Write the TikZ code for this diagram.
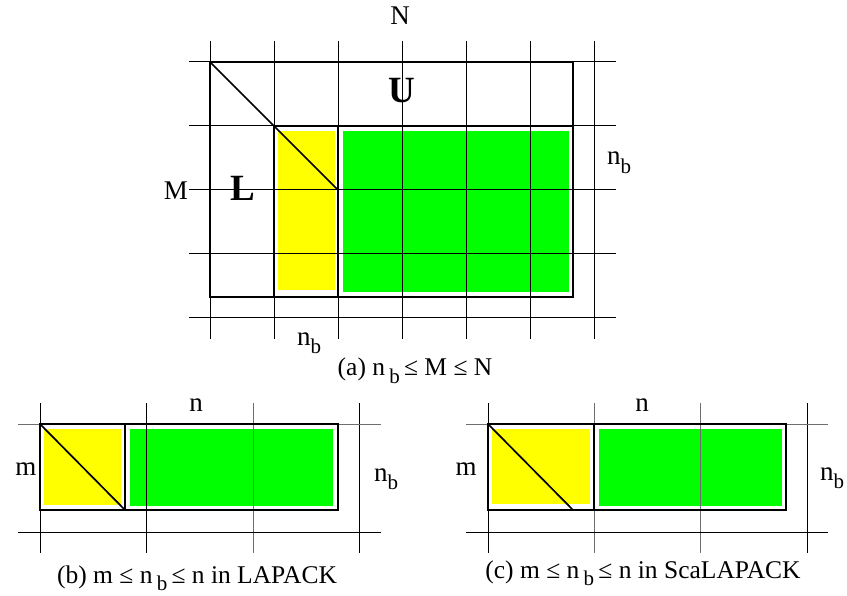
\documentclass[tikz,border=0pt]{standalone}
\usepackage{fontspec}
\setmainfont{Liberation Serif}
\definecolor{fillgreen}{RGB}{0,255,0}
\definecolor{fillyellow}{RGB}{255,255,0}
\definecolor{gridgray}{RGB}{110,110,110}
\newcommand{\sbb}{\raisebox{-0.3em}{\fontsize{21}{21}\selectfont b}}
\begin{document}
\begin{tikzpicture}[x=1pt,y=-1pt,
  gridline/.style={line width=1pt,black},
  gridgrey/.style={line width=1pt,gridgray},
  thickline/.style={line width=2.4pt,black},
  lab/.style={inner sep=0pt,anchor=base,font=\fontsize{27}{30}\selectfont},
  bigbold/.style={inner sep=0pt,anchor=base,font=\fontsize{37}{40}\selectfont\bfseries},
  captext/.style={inner sep=0pt,anchor=base,font=\fontsize{25.5}{28}\selectfont}]
\useasboundingbox (0,0) rectangle (847,596);
% ---------- (a) ----------
\fill[fillyellow] (278,131) rectangle (335,290);
\fill[fillgreen] (343,131) rectangle (569,292);
\foreach \x in {210,274,338,402,466,530,594}
  \draw[gridline] (\x,41) -- (\x,339);
\foreach \y in {62,126,190,254,318}
  \draw[gridline] (189,\y) -- (616,\y);
\draw[thickline] (210,62) rectangle (573,297);
\draw[thickline] (274,297) -- (274,126) -- (573,126);
\draw[thickline] (338,126) -- (338,297);
\coordinate (a1) at (210,62);
\coordinate (a2) at (338,190);
\draw[line width=1.7pt] (a1) -- (a2);
\node[lab] (N) at (400,25) {N};
\node[bigbold] (U) at (402,103) {U};
\node[bigbold] (L) at (243,201) {L};
\node[lab] (M) at (176,200) {M};
\node[lab] (nbR) at (619,165) {n\sbb};
\node[lab] (nbB) at (309,345) {n\sbb};
\node[captext] (capa) at (415,376) {(a) n\,\sbb\,≤ M ≤ N};
% ---------- (b) ----------
\fill[fillyellow] (44,429) rectangle (121,505);
\fill[fillgreen] (130,429) rectangle (333,506);
\foreach \x in {40,146,359}
  \draw[gridline] (\x,403) -- (\x,553);
\draw[gridgrey] (253,403) -- (253,553);
\draw[gridgrey] (18,424) -- (381,424);
\draw[gridline] (18,532) -- (381,532);
\draw[thickline] (40,424) rectangle (338,510);
\draw[thickline] (125,424) -- (125,510);
\coordinate (b1) at (40,424);
\coordinate (b2) at (125,510);
\draw[line width=1.7pt] (b1) -- (b2);
\node[lab] (nB) at (196,411) {n};
\node[lab] (mB) at (26,475) {m};
\node[lab] (nbBr) at (386,481) {n\sbb};
\node[captext] (capb) at (197,583) {(b) m ≤ n\,\sbb\,≤ n in LAPACK};
% ---------- (c) ----------
\fill[fillyellow] (492,429) rectangle (590,504);
\fill[fillgreen] (599,429) rectangle (782,506);
\foreach \x in {488,807}
  \draw[gridline] (\x,403) -- (\x,553);
\foreach \x in {594,700}
  \draw[gridgrey] (\x,403) -- (\x,553);
\draw[gridgrey] (466,424) -- (828,424);
\draw[gridline] (466,532) -- (828,532);
\draw[thickline] (488,424) rectangle (786,510);
\draw[thickline] (594,424) -- (594,510);
\coordinate (c1) at (488,424);
\coordinate (c2) at (573,510);
\draw[line width=1.7pt] (c1) -- (c2);
\node[lab] (nC) at (642,411) {n};
\node[lab] (mC) at (466,475) {m};
\node[lab] (nbCr) at (832,480) {n\sbb};
\node[captext] (capc) at (643,578) {(c) m ≤ n\,\sbb\,≤ n in ScaLAPACK};
\end{tikzpicture}
\end{document}
